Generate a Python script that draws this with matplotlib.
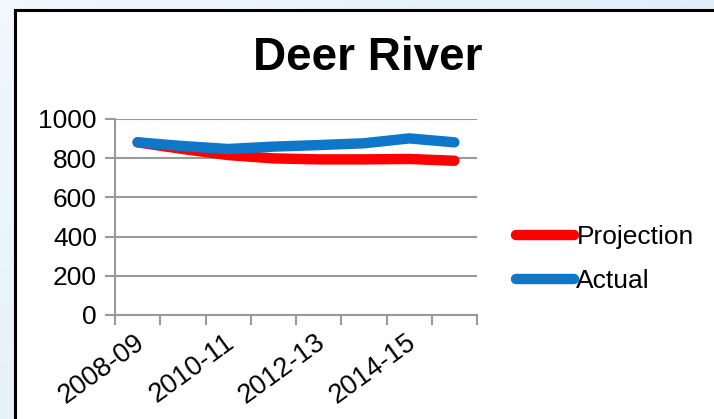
import numpy as np
import matplotlib
matplotlib.use("Agg")
import matplotlib.pyplot as plt
from matplotlib.patches import Rectangle

plt.rcParams['font.family'] = ['Liberation Sans', 'DejaVu Sans']

years = ["2008-09", "2009-10", "2010-11", "2011-12", "2012-13", "2013-14", "2014-15", "2015-16"]
projection = [881, 847, 816, 799, 794, 794, 796, 787]
actual = [881, 862, 847, 859, 867, 876, 901, 881]
title = "Deer River"
yticks = [0, 200, 400, 600, 800, 1000]

W, H = 714, 419
fig = plt.figure(figsize=(W / 100, H / 100), dpi=100)

# background gradient
bg = fig.add_axes([0, 0, 1, 1])
gx = np.linspace(0, 1, 200)
gy = np.linspace(0, 1, 200)
X, Y = np.meshgrid(gx, gy)
c1 = np.array([0.95, 0.97, 0.995])
c2 = np.array([0.84, 0.91, 0.97])
t = np.clip(0.6 * X + 0.4 * (1 - Y), 0, 1)[..., None]
img = c1 * (1 - t) + c2 * t
bg.imshow(img, extent=[0, 1, 0, 1], aspect='auto', origin='lower')
bg.add_patch(Rectangle((15 / W, -0.1), 1.2, 1 - 10 / H + 0.1, facecolor='white',
                       edgecolor='black', linewidth=2.2, transform=bg.transAxes))
bg.set_xlim(0, 1)
bg.set_ylim(0, 1)
bg.axis('off')

ax = fig.add_axes([115 / W, 1 - 315 / H, (477 - 115) / W, (315 - 119) / H])
ax.set_facecolor('none')
x = np.arange(len(years))
ax.plot(x, projection, color='#ff0000', lw=7.5, solid_capstyle='round', solid_joinstyle='round', label='Projection', zorder=3)
ax.plot(x, actual, color='#0f77c9', lw=7.5, solid_capstyle='round', solid_joinstyle='round', label='Actual', zorder=4)

ax.set_xlim(-0.5, len(years) - 0.5)
ax.set_ylim(0, 1000)
ax.set_yticks(yticks)
ax.set_yticklabels([str(v) for v in yticks], fontsize=19)
ax.yaxis.grid(True, color='#999999', lw=1.5)
ax.set_axisbelow(True)
for s in ['top', 'right']:
    ax.spines[s].set_visible(False)
for s in ['left', 'bottom']:
    ax.spines[s].set_color('#999999')
    ax.spines[s].set_linewidth(1.5)
ax.tick_params(axis='y', length=7, color='#999999', width=1.5, pad=6)

# x ticks at category boundaries
ax.set_xticks(np.arange(-0.5, len(years), 1.0))
ax.set_xticklabels([])
ax.tick_params(axis='x', length=7, color='#999999', width=1.5)
for i in range(0, len(years), 2):
    ax.text(i - 0.08, -72, years[i], rotation=36, rotation_mode='anchor', ha='right', va='top',
            fontsize=19.5, transform=ax.transData, clip_on=False)

fig.text(368 / W, 1 - 58 / H, title, fontsize=33, fontweight='bold', ha='center', va='center')

leg = fig.legend(loc='center left', bbox_to_anchor=(492 / W, 1 - 259 / H), frameon=False,
                 fontsize=19, handlelength=2.2, handletextpad=0.1, labelspacing=0.75)

fig.savefig('out.png', dpi=100)
